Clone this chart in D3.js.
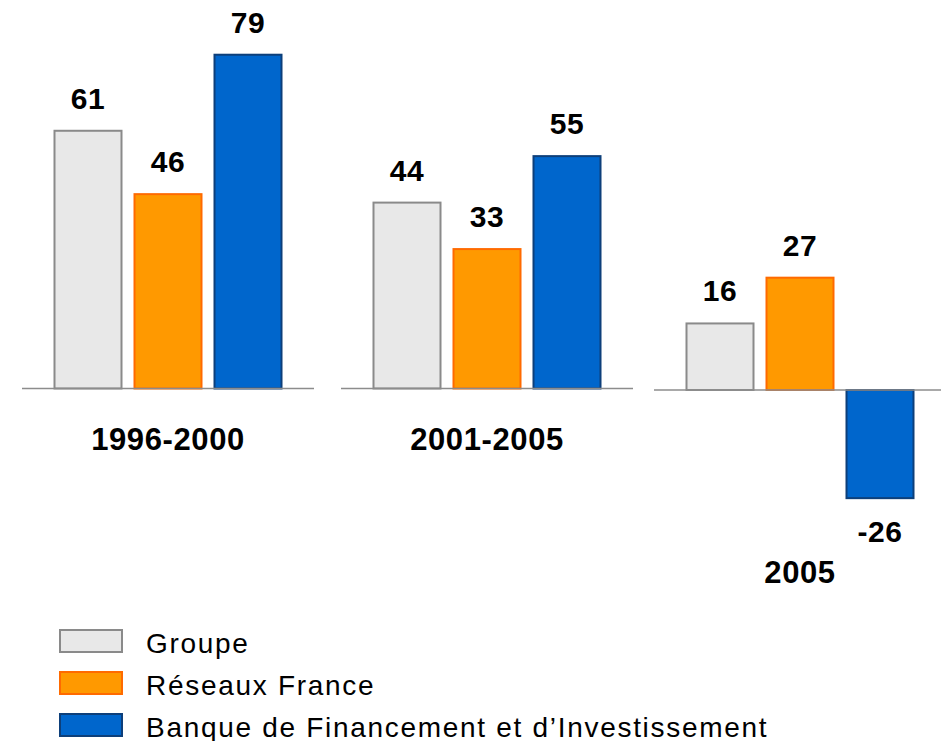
<!DOCTYPE html>
<html>
<head>
<meta charset="utf-8">
<script src="https://cdn.jsdelivr.net/npm/d3@7"></script>
<style>
  body { margin: 0; background: #fff; }
  text { font-family: Arial, "Liberation Sans", sans-serif; fill: #000; }
</style>
</head>
<body>
<svg id="chart" width="941" height="741"></svg>
<script>
// data
const periods = ["1996-2000", "2001-2005", "2005"]
const series = ["Groupe", "Réseaux France", "Banque de Financement et d’Investissement"]
const groupe = [61, 44, 16]
const reseaux = [46, 33, 27]
const bfi = [79, 55, -26]

const fills = ["#e8e8e8", "#ff9900", "#0066cc"]
const strokes = ["#8a8a8a", "#ff6a00", "#0d3f7a"]

let svg = d3.select("#chart")

// each period is drawn as its own little panel
let panelX = d3.scaleOrdinal().domain(periods).range([22, 341, 654])
let panelBase = d3.scaleOrdinal().domain(periods).range([388.5, 388.5, 390])
let panelK = d3.scaleOrdinal().domain(periods).range([4.225, 4.225, 4.16])
let labelY = d3.scaleOrdinal().domain(periods).range([450, 450, 583])

let inset = 26

let xScale = d3.scaleBand()
    .domain(series)
    .range([0, 240])
    .paddingInner(0.1625)
    .paddingOuter(0.08125)

let color = d3.scaleOrdinal().domain(series).range(fills)
let edge = d3.scaleOrdinal().domain(series).range(strokes)

let rows = periods.map((p, i) => ({
    period: p,
    values: [groupe[i], reseaux[i], bfi[i]].map((v, j) => ({ key: series[j], value: v }))
}))

let panels = svg.selectAll("g.panel")
    .data(rows)
    .enter().append("g")
    .attr("class", "panel")
    .attr("transform", d => "translate(" + panelX(d.period) + ",0)")

panels.each(function(d) {
    let g = d3.select(this)
    let base = panelBase(d.period)
    let k = panelK(d.period)
    let yScale = d3.scaleLinear().domain([0, 100]).range([base, base - 100 * k])

    g.selectAll("rect")
        .data(d.values)
        .enter().append("rect")
            .attr("x", v => inset + xScale(v.key))
            .attr("y", v => yScale(Math.max(0, v.value)))
            .attr("width", xScale.bandwidth())
            .attr("height", v => Math.abs(yScale(v.value) - yScale(0)))
            .style("fill", v => color(v.key))
            .style("stroke", v => edge(v.key))
            .style("stroke-width", 2)

    g.append("line")
        .attr("x1", 0)
        .attr("x2", d.period === "2005" ? 300 : 292)
        .attr("y1", yScale(0))
        .attr("y2", yScale(0))
        .style("stroke", "#8c8c8c")
        .style("stroke-width", 1.5)

    g.selectAll("text.value")
        .data(d.values)
        .enter().append("text")
            .attr("class", "value")
            .attr("x", v => inset + xScale(v.key) + xScale.bandwidth() / 2)
            .attr("y", v => v.value >= 0 ? yScale(v.value) - 22 : yScale(v.value) + 44)
            .attr("text-anchor", "middle")
            .style("font-size", "30px")
            .style("font-weight", "bold")
            .style("letter-spacing", "0.5px")
            .text(v => v.value)

    g.append("text")
        .attr("x", inset + xScale.range()[1] / 2)
        .attr("y", labelY(d.period))
        .attr("text-anchor", "middle")
        .style("font-size", "31px")
        .style("font-weight", "bold")
        .style("letter-spacing", "0.6px")
        .text(d.period)
})

// legend
let legend = svg.append("g")
    .attr("transform", "translate(59,653)")

let items = legend.selectAll("g")
    .data(series)
    .enter().append("g")
    .attr("transform", (s, i) => "translate(0," + (i * 42) + ")")

items.append("rect")
    .attr("x", 1)
    .attr("y", -23)
    .attr("width", 62)
    .attr("height", 22)
    .style("fill", s => color(s))
    .style("stroke", s => edge(s))
    .style("stroke-width", 2)

items.append("text")
    .attr("x", 87)
    .attr("y", 0)
    .style("font-size", "28px")
    .style("letter-spacing", "1.7px")
    .text(s => s)
</script>
</body>
</html>
